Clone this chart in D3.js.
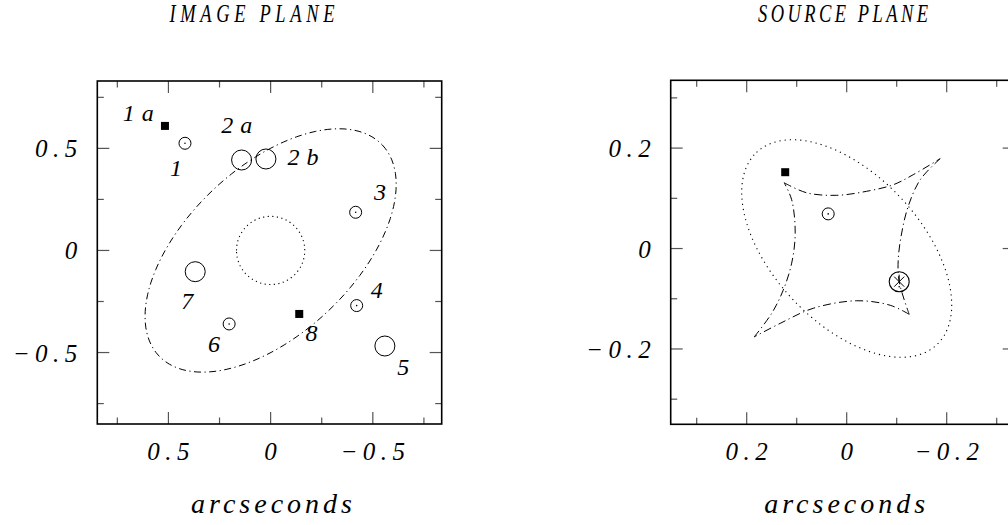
<!DOCTYPE html>
<html><head><meta charset="utf-8">
<script src="https://cdn.jsdelivr.net/npm/d3@7"></script>
<style>
html,body{margin:0;padding:0;background:#fff;}
svg text{font-family:"Liberation Serif","DejaVu Serif",serif;font-style:italic;fill:#000;}
</style></head>
<body><svg id="c" width="1008" height="525"></svg>
<script>
// ---------- DATA ----------
// Image plane
const imgTicks = [0.75, 0.5, 0.25, 0, -0.25, -0.5, -0.75];
const imgMajorTicks = [0.5, 0, -0.5];
const imgTickLabels = ["0.5", "0", "\u22120.5"];
const imgNames  = ["1a", "1", "2a", "2b", "3", "4", "5", "6", "7", "8"];
const imgX      = [0.517, 0.419, 0.142, 0.023, -0.416, -0.421, -0.559, 0.203, 0.369, -0.14];
const imgY      = [0.61, 0.525, 0.443, 0.448, 0.187, -0.27, -0.468, -0.36, -0.104, -0.311];
const imgKind   = ["square", "dot", "big", "big", "dot", "dot", "big", "dot", "big", "square"];
const imgLabelX = [0.648, 0.463, 0.166, -0.159, -0.535, -0.519, -0.649, 0.277, 0.408, -0.2];
const imgLabelY = [0.672, 0.403, 0.615, 0.459, 0.288, -0.193, -0.569, -0.459, -0.246, -0.405];
// critical curves: [cx, cy, semi-major, semi-minor, angle(deg)]
const imgTangentialCrit = [0, 0, 0.752, 0.409, 136.6];
const imgRadialCrit = [0, 0, 0.167, 0.167, 0];

// Source plane
const srcTicks = [0.3, 0.2, 0.1, 0, -0.1, -0.2, -0.3];
const srcMajorTicks = [0.2, 0, -0.2];
const srcTickLabels = ["0.2", "0", "\u22120.2"];
const srcX    = [0.123, 0.037, -0.105];
const srcY    = [0.152, 0.069, -0.066];
const srcKind = ["square", "dot", "star"];
const srcRadialCaustic = [0, 0, 0.263, 0.148, 46.7];
const causticTop    = [[0.125,0.131],[0.08,0.111],[0.02,0.106],[-0.04,0.114],[-0.093,0.127],[-0.133,0.147],[-0.187,0.179]];
const causticRight  = [[-0.187,0.179],[-0.147,0.137],[-0.123,0.084],[-0.11,0.031],[-0.103,-0.023],[-0.105,-0.066],[-0.125,-0.131]];
const causticBottom = [[-0.125,-0.131],[-0.087,-0.113],[-0.02,-0.104],[0.067,-0.119],[0.133,-0.149],[0.185,-0.176]];
const causticLeft   = [[0.185,-0.176],[0.15,-0.129],[0.127,-0.083],[0.11,-0.029],[0.103,0.031],[0.11,0.097],[0.125,0.131]];

const titles = ["IMAGE PLANE", "SOURCE PLANE"];
const axisTitle = "arcseconds";

// ---------- DRAW ----------
const svg = d3.select("#c");

function ellipsePts(p){
  const [cx, cy, a, b, ang] = p, t = ang*Math.PI/180;
  return d3.range(0, 361, 3).map(d => {
    const f = d*Math.PI/180;
    return [cx + a*Math.cos(f)*Math.cos(t) - b*Math.sin(f)*Math.sin(t),
            cy + a*Math.cos(f)*Math.sin(t) + b*Math.sin(f)*Math.cos(t)];
  });
}

function spacedText(g, x, y, str, size, ls, anchor){
  const t = g.append("text").attr("y", y).attr("font-size", size).attr("letter-spacing", ls)
    .attr("text-anchor", anchor).text(str);
  const shift = anchor === "middle" ? ls/2 : (anchor === "end" ? ls : 0);
  t.attr("x", x + shift);
  return t;
}

function panel(cfg){
  const g = svg.append("g");
  const x = d3.scaleLinear().domain(cfg.xd).range([cfg.x0, cfg.x1]);
  const y = d3.scaleLinear().domain(cfg.yd).range([cfg.y1, cfg.y0]);
  const line = d3.line().x(d => x(d[0])).y(d => y(d[1]));

  cfg.ticks.forEach(t => {
    const L = cfg.major.includes(t) ? 12 : 6.5;
    const tx = x(t), ty = y(t);
    [[tx, cfg.y0, tx, cfg.y0 + L], [tx, cfg.y1, tx, cfg.y1 - L],
     [cfg.x0, ty, cfg.x0 + L, ty], [cfg.x1, ty, cfg.x1 - L, ty]].forEach(s => {
      g.append("line").attr("x1", s[0]).attr("y1", s[1]).attr("x2", s[2]).attr("y2", s[3])
        .attr("stroke", "#555").attr("stroke-width", 1.2);
    });
  });
  g.append("rect").attr("x", cfg.x0).attr("y", cfg.y0)
    .attr("width", cfg.x1 - cfg.x0).attr("height", cfg.y1 - cfg.y0)
    .attr("fill", "none").attr("stroke", "#000").attr("stroke-width", 1.6);

  cfg.major.forEach((t, i) => {
    spacedText(g, x(t), cfg.y1 + 36, cfg.labels[i], 25, 5.5, "middle");
    spacedText(g, cfg.x0 - 20, y(t) + 9, cfg.labels[i], 25, 5.5, "end");
  });
  const cxm = (cfg.x0 + cfg.x1) / 2;
  spacedText(g, cxm + 2, 513, axisTitle, 28, 4, "middle");
  const sx = 0.74;
  g.append("g").attr("transform", `translate(${cfg.titleX},22) scale(${sx},1)`)
    .append("text").attr("x", 0).attr("y", 0).attr("text-anchor", "middle")
    .attr("font-size", 25)
    .attr("textLength", cfg.titleW / sx).attr("lengthAdjust", "spacing")
    .text(cfg.title);

  return {g, x, y, line};
}

// ---- Image plane ----
const P1 = panel({xd:[0.848,-0.837], yd:[-0.85,0.83], x0:97.3, x1:441.7, y0:81, y1:424,
  ticks: imgTicks, major: imgMajorTicks, labels: imgTickLabels, title: titles[0], titleX: 252, titleW: 165});

P1.g.append("path").attr("d", P1.line(ellipsePts(imgTangentialCrit)))
  .attr("fill", "none").attr("stroke", "#000").attr("stroke-width", 1)
  .attr("stroke-dasharray", "7,3.5,1.2,3.5");
P1.g.append("path").attr("d", P1.line(ellipsePts(imgRadialCrit)))
  .attr("fill", "none").attr("stroke", "#000").attr("stroke-width", 1.1)
  .attr("stroke-dasharray", "1.2,3.4");

function marker(P, kind, xv, yv){
  const px = P.x(xv), py = P.y(yv);
  if (kind === "square") {
    P.g.append("rect").attr("x", px - 4).attr("y", py - 4).attr("width", 8).attr("height", 8).attr("fill", "#000");
  } else if (kind === "dot") {
    P.g.append("circle").attr("cx", px).attr("cy", py).attr("r", 6).attr("fill", "none").attr("stroke", "#000").attr("stroke-width", 1);
    P.g.append("circle").attr("cx", px).attr("cy", py).attr("r", 0.8).attr("fill", "#000");
  } else if (kind === "big") {
    P.g.append("circle").attr("cx", px).attr("cy", py).attr("r", 10).attr("fill", "none").attr("stroke", "#000").attr("stroke-width", 1);
  } else if (kind === "star") {
    P.g.append("circle").attr("cx", px).attr("cy", py).attr("r", 10).attr("fill", "none").attr("stroke", "#000").attr("stroke-width", 1.1);
    [[-5,-5,5,5],[-5,5,5,-5],[0,-7,0,0]].forEach(s => {
      P.g.append("line").attr("x1", px + s[0]).attr("y1", py + s[1]).attr("x2", px + s[2]).attr("y2", py + s[3])
        .attr("stroke", "#000").attr("stroke-width", 1);
    });
    P.g.append("circle").attr("cx", px).attr("cy", py + 5).attr("r", 0.8).attr("fill", "#000");
  }
}

imgNames.forEach((n, i) => {
  marker(P1, imgKind[i], imgX[i], imgY[i]);
  spacedText(P1.g, P1.x(imgLabelX[i]), P1.y(imgLabelY[i]) + 8, n, 24, 7, "middle");
});

// ---- Source plane ----
const P2 = panel({xd:[0.352,-0.336], yd:[-0.35,0.335], x0:670.7, x1:1014.7, y0:80.3, y1:424.3,
  ticks: srcTicks, major: srcMajorTicks, labels: srcTickLabels, title: titles[1], titleX: 843, titleW: 170});

P2.g.append("path").attr("d", P2.line(ellipsePts(srcRadialCaustic)))
  .attr("fill", "none").attr("stroke", "#000").attr("stroke-width", 1.1)
  .attr("stroke-dasharray", "1.2,4");
const cline = d3.line().x(d => P2.x(d[0])).y(d => P2.y(d[1])).curve(d3.curveCatmullRom);
[causticTop, causticRight, causticBottom, causticLeft].forEach(arc => {
  P2.g.append("path").attr("d", cline(arc))
    .attr("fill", "none").attr("stroke", "#000").attr("stroke-width", 1)
    .attr("stroke-dasharray", "8,3.5,1.2,3.5");
});
srcKind.forEach((k, i) => marker(P2, k, srcX[i], srcY[i]));
</script></body></html>
